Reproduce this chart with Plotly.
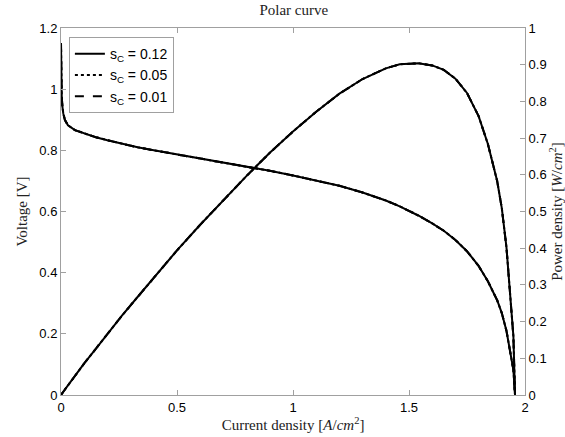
import plotly.graph_objects as go

# Current density [A/cm^2]
current = [0, 0.001, 0.003, 0.006, 0.01, 0.017, 0.03, 0.06, 0.1, 0.15, 0.2, 0.26, 0.33, 0.4,
           0.5, 0.6, 0.7, 0.8, 0.9, 1.0, 1.1, 1.2, 1.3, 1.4, 1.46, 1.54, 1.6, 1.65, 1.7, 1.75,
           1.8, 1.84, 1.88, 1.9, 1.92, 1.94, 1.95, 1.957]
# Voltage [V]
voltage = [1.15, 1.05, 0.98, 0.943, 0.92, 0.899, 0.882, 0.866, 0.855, 0.843, 0.833, 0.822, 0.81, 0.80,
           0.787, 0.774, 0.76, 0.746, 0.733, 0.718, 0.702, 0.684, 0.662, 0.636, 0.617, 0.587, 0.561, 0.537,
           0.507, 0.47, 0.422, 0.372, 0.31, 0.268, 0.21, 0.13, 0.082, 0.0]
# Power density [W/cm^2]
power = [0, 0.001, 0.003, 0.006, 0.009, 0.015, 0.026, 0.052, 0.086, 0.126, 0.167, 0.214, 0.267, 0.32,
         0.394, 0.464, 0.532, 0.597, 0.66, 0.718, 0.772, 0.821, 0.861, 0.89, 0.901, 0.904, 0.898, 0.886,
         0.862, 0.823, 0.76, 0.684, 0.583, 0.509, 0.403, 0.252, 0.16, 0.0]

series_names = ["s<sub>C</sub> = 0.12", "s<sub>C</sub> = 0.05", "s<sub>C</sub> = 0.01"]
series_dash = ["solid", "dot", "dash"]

SERIF = "Liberation Serif, Times New Roman, serif"
SANS = "Liberation Sans, Arial, Helvetica, sans-serif"
AXC = "#a0a0a0"

fig = go.Figure()
for name, dash in zip(series_names, series_dash):
    fig.add_trace(go.Scatter(x=current, y=voltage, mode="lines", name=name,
                             line=dict(color="black", width=2, dash=dash), yaxis="y"))
for name, dash in zip(series_names, series_dash):
    fig.add_trace(go.Scatter(x=current, y=power, mode="lines", name=name, showlegend=False,
                             line=dict(color="black", width=2, dash=dash), yaxis="y2"))

fig.update_layout(
    width=565, height=437,
    margin=dict(l=61, r=40, t=28, b=42, autoexpand=False),
    paper_bgcolor="white", plot_bgcolor="white",
    font=dict(family=SANS, size=13, color="black"),
    title=dict(text="Polar curve", x=0.52, xanchor="center", y=0.978, yanchor="middle",
               font=dict(family=SERIF, size=15, color="#222")),
    xaxis=dict(range=[0, 2], dtick=0.5, showgrid=False, zeroline=False, automargin=False,
               showline=True, linecolor=AXC, linewidth=1, mirror="ticks",
               ticks="inside", ticklen=5, tickcolor=AXC,
               tickfont=dict(family=SANS, size=13, color="black"),
               title=dict(text="Current density [<i>A</i>/<i>cm</i><sup>2</sup>]", standoff=4,
                          font=dict(family=SERIF, size=15, color="#222"))),
    yaxis=dict(range=[0, 1.2], dtick=0.2, showgrid=False, zeroline=False, automargin=False,
               showline=True, linecolor=AXC, linewidth=1,
               ticks="inside", ticklen=5, tickcolor=AXC,
               tickfont=dict(family=SANS, size=13, color="black"),
               title=dict(text="Voltage [V]", standoff=8,
                          font=dict(family=SERIF, size=15, color="#222"))),
    yaxis2=dict(range=[0, 1], dtick=0.1, overlaying="y", side="right", automargin=False,
                showgrid=False, zeroline=False,
                showline=True, linecolor=AXC, linewidth=1,
                ticks="inside", ticklen=5, tickcolor=AXC,
                tickfont=dict(family=SANS, size=13, color="black"),
                title=dict(text="Power density [<i>W</i>/<i>cm</i><sup>2</sup>]", standoff=12,
                           font=dict(family=SERIF, size=15, color="#222"))),
    legend=dict(x=0.017, y=0.975, xanchor="left", yanchor="top",
                bgcolor="white", bordercolor=AXC, borderwidth=1,
                font=dict(family=SANS, size=14, color="black"),
                tracegroupgap=0, itemwidth=30),
    showlegend=True,
)

fig.write_html("out.html")
